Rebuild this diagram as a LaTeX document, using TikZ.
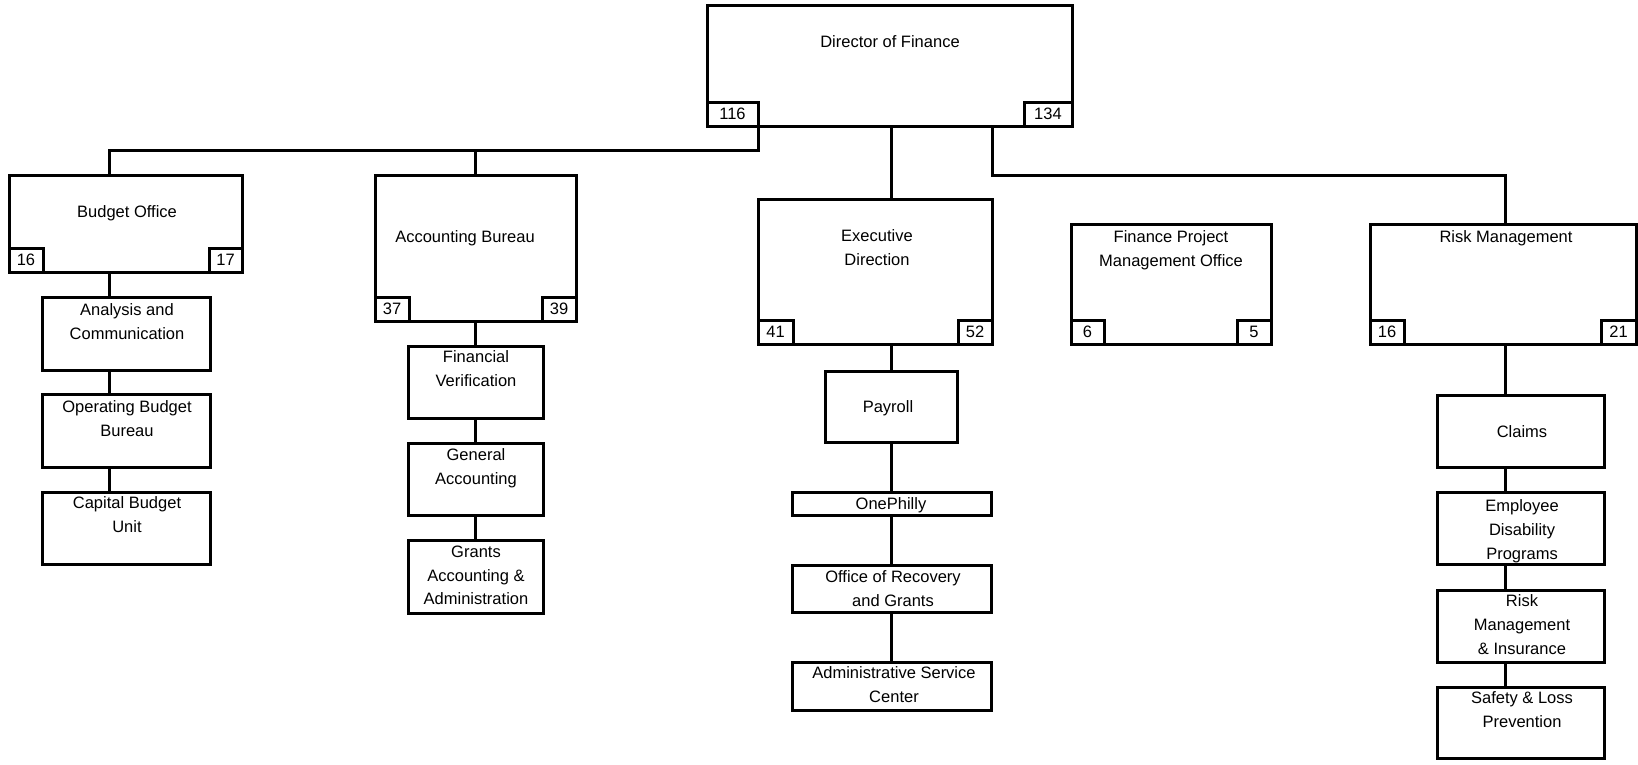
\documentclass[tikz,border=0pt]{standalone}
\usepackage{fontspec}
\setmainfont{Liberation Sans}
\usetikzlibrary{calc}
% unit box: name, left, top, right, bottom (line centres, in px-sized pt)
\newcommand\unitbox[5]{\node[unit, minimum width={#4-#2}, minimum height={#5-#3}] (#1) at (#2,#3) {};}
\begin{document}
\begin{tikzpicture}[x=1pt,y=-1pt,
  every node/.style={inner sep=0pt, outer sep=0pt},
  unit/.style={draw, line width=3pt, rectangle, anchor=north west},
  tag/.style={draw, line width=3pt, rectangle, minimum height=24pt, minimum width=34pt,
    font=\fontsize{16.5}{20}\selectfont},
  tagl/.style={tag, anchor=south west},
  tagr/.style={tag, anchor=south east},
  txt/.style={anchor=north, align=center, font=\fontsize{16.5}{23.7}\selectfont},
  link/.style={line width=3pt}]
\useasboundingbox (0,0) rectangle (1638,764);

% ---- boxes ----
\unitbox{dir}{707}{5}{1072}{126}
\unitbox{bud}{9}{175}{242}{272}
\unitbox{ana}{42}{297}{210}{370}
\unitbox{opb}{42}{394}{210}{467}
\unitbox{cbu}{42}{492}{210}{564}
\unitbox{acc}{375}{175}{576}{321}
\unitbox{fver}{408}{346}{543}{418}
\unitbox{gacc}{408}{443}{543}{515}
\unitbox{gaa}{408}{540}{543}{613}
\unitbox{exe}{758}{199}{992}{344}
\unitbox{pay}{825}{371}{957}{442}
\unitbox{one}{792}{492}{991}{515}
\unitbox{org}{792}{565}{991}{612}
\unitbox{asc}{792}{662}{991}{710}
\unitbox{fpm}{1071}{224}{1271}{344}
\unitbox{rsk}{1370}{224}{1636}{344}
\unitbox{clm}{1437}{395}{1604}{467}
\unitbox{edp}{1437}{492}{1604}{564}
\unitbox{rmi}{1437}{590}{1604}{662}
\unitbox{slp}{1437}{687}{1604}{758}

% ---- head-count tags ----
\node[tagl, minimum width=51pt] (dir-a) at (dir.south west) {116};
\node[tagr, minimum width=48pt] (dir-b) at (dir.south east) {134};
\node[tagl] (bud-a) at (bud.south west) {16};
\node[tagr, minimum width=33pt] (bud-b) at (bud.south east) {17};
\node[tagl] (acc-a) at (acc.south west) {37};
\node[tagr] (acc-b) at (acc.south east) {39};
\node[tagl, minimum width=35pt] (exe-a) at (exe.south west) {41};
\node[tagr] (exe-b) at (exe.south east) {52};
\node[tagl, minimum width=33pt] (fpm-a) at (fpm.south west) {6};
\node[tagr] (fpm-b) at (fpm.south east) {5};
\node[tagl] (rsk-a) at (rsk.south west) {16};
\node[tagr, minimum width=35pt] (rsk-b) at (rsk.south east) {21};

% ---- titles ----
\node[txt] (dir-t) at (890,36) {Director of Finance};
\node[txt] (bud-t) at (127,206) {Budget Office};
\node[txt] (ana-t) at (127,304) {Analysis and\\Communication};
\node[txt] (opb-t) at (127,401) {Operating Budget\\Bureau};
\node[txt] (cbu-t) at (127,497) {Capital Budget\\Unit};
\node[txt] (acc-t) at (465,231) {Accounting Bureau};
\node[txt] (fver-t) at (476,351) {Financial\\Verification};
\node[txt] (gacc-t) at (476,449) {General\\Accounting};
\node[txt] (gaa-t) at (476,546) {Grants\\Accounting \&\\Administration};
\node[txt] (exe-t) at (877,230) {Executive\\Direction};
\node[txt] (pay-t) at (888,401) {Payroll};
\node[txt] (one-t) at (891,498) {OnePhilly};
\node[txt] (org-t) at (893,571) {Office of Recovery\\and Grants};
\node[txt] (asc-t) at (894,667) {Administrative Service\\Center};
\node[txt] (fpm-t) at (1171,231) {Finance Project\\Management Office};
\node[txt] (rsk-t) at (1506,231) {Risk Management};
\node[txt] (clm-t) at (1522,426) {Claims};
\node[txt] (edp-t) at (1522,500) {Employee\\Disability\\Programs};
\node[txt] (rmi-t) at (1522,595) {Risk\\Management\\\& Insurance};
\node[txt] (slp-t) at (1522,692) {Safety \& Loss\\Prevention};

% ---- connector spines ----
\coordinate (budx) at (109,0);
\coordinate (exex) at (891,0);
\coordinate (rskx) at (1505,0);

% ---- connectors ----
\draw[link] (dir-a.south east) -- ++(0,24) coordinate (lj) -| (bud.north -| budx);
\draw[link] (lj -| acc.north) -- (acc.north);
\draw[link] (dir.south -| exex) -- (exe.north -| exex);
\draw[link] (dir.south -| exe.east) -- ++(0,49) -| (rsk.north -| rskx);

\draw[link] (bud.south -| budx) -- (ana.north -| budx);
\draw[link] (ana.south -| budx) -- (opb.north -| budx);
\draw[link] (opb.south -| budx) -- (cbu.north -| budx);

\draw[link] (acc.south) -- (fver.north);
\draw[link] (fver.south) -- (gacc.north);
\draw[link] (gacc.south) -- (gaa.north);

\draw[link] (exe.south -| exex) -- (pay.north -| exex);
\draw[link] (pay.south -| exex) -- (one.north -| exex);
\draw[link] (one.south -| exex) -- (org.north -| exex);
\draw[link] (org.south -| exex) -- (asc.north -| exex);

\draw[link] (rsk.south -| rskx) -- (clm.north -| rskx);
\draw[link] (clm.south -| rskx) -- (edp.north -| rskx);
\draw[link] (edp.south -| rskx) -- (rmi.north -| rskx);
\draw[link] (rmi.south -| rskx) -- (slp.north -| rskx);
\end{tikzpicture}
\end{document}
